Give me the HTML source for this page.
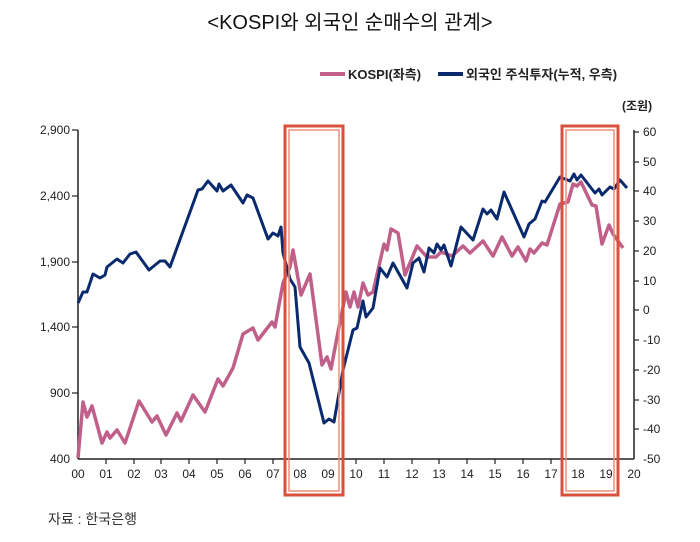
<!DOCTYPE html>
<html><head><meta charset="utf-8"><style>
body{margin:0;background:#fff;}
svg text{font-family:"Liberation Sans","Noto Sans CJK KR",sans-serif;}
</style></head><body>
<svg width="700" height="537" viewBox="0 0 700 537" xmlns="http://www.w3.org/2000/svg">
<rect width="700" height="537" fill="#fff"/>
<text x="350" y="29" text-anchor="middle" font-size="20" fill="#111">&lt;KOSPI와 외국인 순매수의 관계&gt;</text>
<line x1="320" y1="74" x2="345" y2="74" stroke="#c0608a" stroke-width="4"/>
<text x="348" y="79" font-size="13" font-weight="bold" fill="#222">KOSPI(좌측)</text>
<line x1="438" y1="74" x2="463" y2="74" stroke="#0a2a6e" stroke-width="4"/>
<text x="466" y="79" font-size="13" font-weight="bold" fill="#222">외국인 주식투자(누적, 우측)</text>
<text x="622" y="110" font-size="12" font-weight="bold" fill="#222">(조원)</text>
<g stroke="#222" stroke-width="1.5" fill="none">
<line x1="78" y1="130" x2="78" y2="459"/>
<line x1="78" y1="459" x2="634" y2="459"/>
<line x1="634" y1="130" x2="634" y2="459"/>
</g>
<g font-size="12" fill="#222" text-anchor="end">
<text x="70" y="134">2,900</text><text x="70" y="200">2,400</text><text x="70" y="266">1,900</text><text x="70" y="331">1,400</text><text x="70" y="397">900</text><text x="70" y="463">400</text>
</g>
<g stroke="#222" stroke-width="1.2">
<line x1="72" y1="130" x2="78" y2="130"/><line x1="72" y1="196" x2="78" y2="196"/><line x1="72" y1="262" x2="78" y2="262"/><line x1="72" y1="327" x2="78" y2="327"/><line x1="72" y1="393" x2="78" y2="393"/>
<line x1="634" y1="132" x2="639" y2="132"/><line x1="634" y1="162" x2="639" y2="162"/><line x1="634" y1="191" x2="639" y2="191"/><line x1="634" y1="221" x2="639" y2="221"/><line x1="634" y1="251" x2="639" y2="251"/><line x1="634" y1="281" x2="639" y2="281"/><line x1="634" y1="310" x2="639" y2="310"/><line x1="634" y1="340" x2="639" y2="340"/><line x1="634" y1="370" x2="639" y2="370"/><line x1="634" y1="400" x2="639" y2="400"/><line x1="634" y1="429" x2="639" y2="429"/>
</g>
<g font-size="12" fill="#222">
<text x="643" y="136">60</text><text x="643" y="166">50</text><text x="643" y="195">40</text><text x="643" y="225">30</text><text x="643" y="255">20</text><text x="643" y="285">10</text><text x="643" y="314">0</text><text x="643" y="344">-10</text><text x="643" y="374">-20</text><text x="643" y="404">-30</text><text x="643" y="433">-40</text><text x="643" y="463">-50</text>
</g>
<g font-size="12" fill="#222" text-anchor="middle">
<text x="78" y="478">00</text><text x="106" y="478">01</text><text x="134" y="478">02</text><text x="161" y="478">03</text><text x="189" y="478">04</text><text x="217" y="478">05</text><text x="245" y="478">06</text><text x="273" y="478">07</text><text x="300" y="478">08</text><text x="328" y="478">09</text><text x="356" y="478">10</text><text x="384" y="478">11</text><text x="412" y="478">12</text><text x="439" y="478">13</text><text x="467" y="478">14</text><text x="495" y="478">15</text><text x="523" y="478">16</text><text x="551" y="478">17</text><text x="578" y="478">18</text><text x="606" y="478">19</text><text x="634" y="478">20</text>
</g>
<g stroke="#222" stroke-width="1.2">
<line x1="106" y1="459" x2="106" y2="464"/><line x1="134" y1="459" x2="134" y2="464"/><line x1="161" y1="459" x2="161" y2="464"/><line x1="189" y1="459" x2="189" y2="464"/><line x1="217" y1="459" x2="217" y2="464"/><line x1="245" y1="459" x2="245" y2="464"/><line x1="273" y1="459" x2="273" y2="464"/><line x1="356" y1="459" x2="356" y2="464"/><line x1="384" y1="459" x2="384" y2="464"/><line x1="412" y1="459" x2="412" y2="464"/><line x1="439" y1="459" x2="439" y2="464"/><line x1="467" y1="459" x2="467" y2="464"/><line x1="495" y1="459" x2="495" y2="464"/><line x1="523" y1="459" x2="523" y2="464"/><line x1="551" y1="459" x2="551" y2="464"/>
</g>
<polyline fill="none" stroke="#c0608a" stroke-width="3.5" stroke-linejoin="round" points="78,458 83,402 87,417 92,406 102,443 107,432 110,438 117,430 125,443 139,401 152,422 157,416 166,435 177,413 181,421 193,395 205,412 218,379 223,386 233,368 243,334 253,328 258,340 272,322 275,327 283,283 290,267 293,250 301,295 310,274 322,365 327,357 331,369 338,332 346,292 350,307 354,292 358,307 363,283 368,295 373,292 384,244 387,250 391,229 398,233 405,275 417,246 427,257 436,257 441,252 452,256 463,246 470,253 483,241 493,256 502,237 512,256 518,247 526,261 530,249 534,253 542,243 547,245 560,204 568,202 573,184 577,186 581,182 592,205 596,206 602,244 609,225 613,234 623,248"/>
<polyline fill="none" stroke="#0a2a6e" stroke-width="3" stroke-linejoin="round" points="78,303 83,292 87,292 93,274 100,278 105,275 107,267 117,259 123,263 130,254 136,252 149,270 160,261 165,261 170,267 198,190 202,189 208,181 217,191 219,184 223,191 231,185 243,203 247,195 253,198 268,239 273,233 278,236 281,227 283,253 290,279 295,287 300,347 309,363 324,423 329,419 334,422 343,370 353,330 357,328 363,301 366,317 373,308 380,268 387,277 393,263 407,288 413,263 419,258 424,272 429,248 434,253 437,244 441,250 444,245 451,266 461,227 473,240 483,209 487,214 491,210 497,219 504,192 524,237 529,224 535,219 542,201 545,202 560,177 570,181 574,174 577,180 581,175 595,193 599,189 602,195 610,187 614,189 620,180 627,188"/>
<g fill="none">
<rect x="285" y="126" width="58" height="369" stroke="#d9503c" stroke-width="3"/>
<rect x="289" y="130" width="50" height="361" stroke="#e8907e" stroke-width="1.5"/>
<rect x="562" y="126" width="56" height="369" stroke="#d9503c" stroke-width="3"/>
<rect x="566" y="130" width="48" height="361" stroke="#e8907e" stroke-width="1.5"/>
</g>
<text x="48" y="524" font-size="14" fill="#333">자료 : 한국은행</text>
</svg>
</body></html>
